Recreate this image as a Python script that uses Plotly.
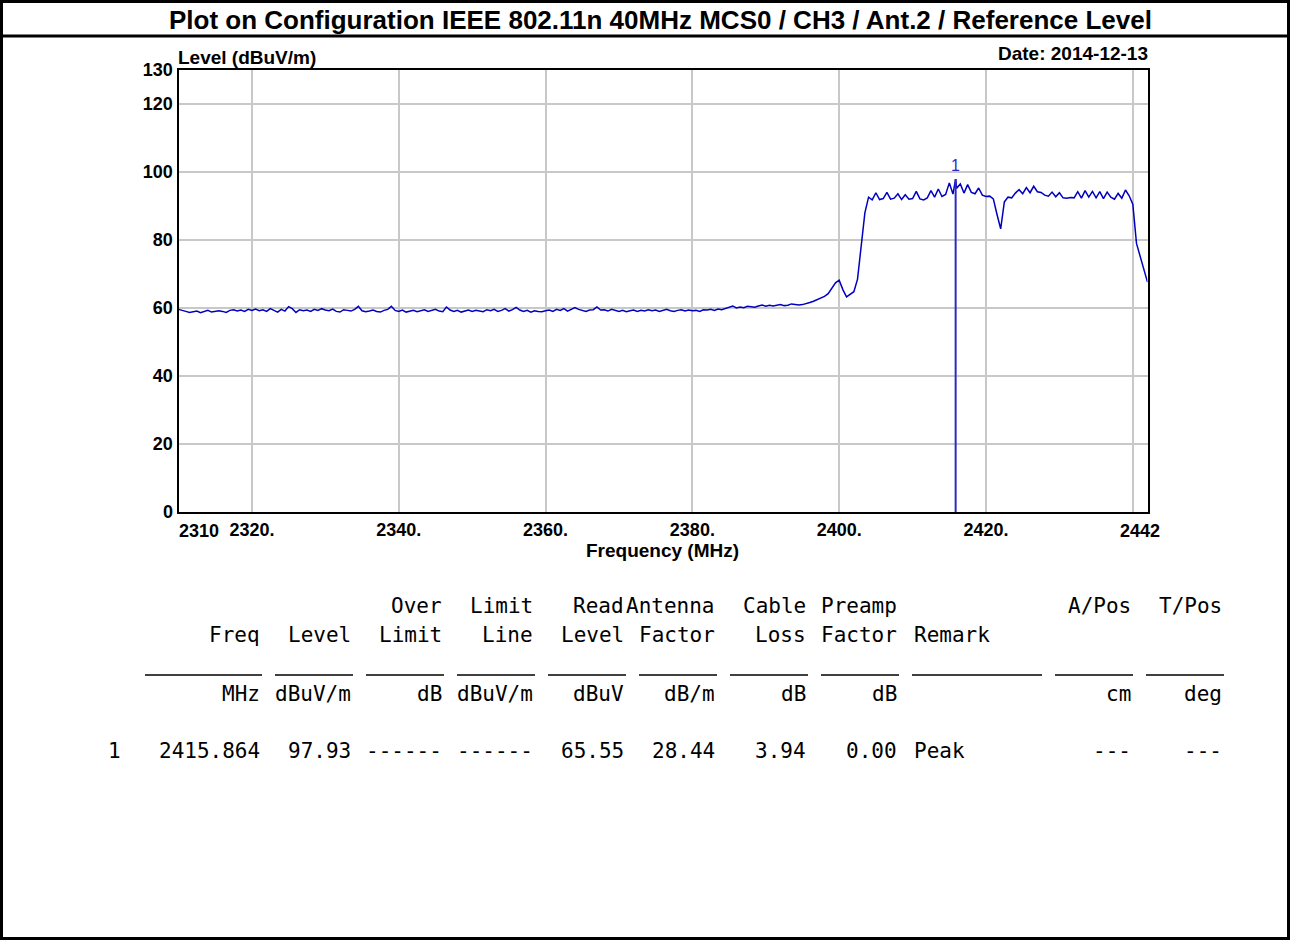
import plotly.graph_objects as go

# ---------------- measured sweep ----------------
freq_mhz = [
    2310.0, 2310.5, 2311.0, 2311.5, 2312.0, 2312.5, 2313.0, 2313.5, 2314.0, 2314.5,
    2315.0, 2315.5, 2316.0, 2316.5, 2317.0, 2317.5, 2318.0, 2318.5, 2319.0, 2319.5,
    2320.0, 2320.5, 2321.0, 2321.5, 2322.0, 2322.5, 2323.0, 2323.5, 2324.0, 2324.5,
    2325.0, 2325.5, 2326.0, 2326.5, 2327.0, 2327.5, 2328.0, 2328.5, 2329.0, 2329.5,
    2330.0, 2330.5, 2331.0, 2331.5, 2332.0, 2332.5, 2333.0, 2333.5, 2334.0, 2334.5,
    2335.0, 2335.5, 2336.0, 2336.5, 2337.0, 2337.5, 2338.0, 2338.5, 2339.0, 2339.5,
    2340.0, 2340.5, 2341.0, 2341.5, 2342.0, 2342.5, 2343.0, 2343.5, 2344.0, 2344.5,
    2345.0, 2345.5, 2346.0, 2346.5, 2347.0, 2347.5, 2348.0, 2348.5, 2349.0, 2349.5,
    2350.0, 2350.5, 2351.0, 2351.5, 2352.0, 2352.5, 2353.0, 2353.5, 2354.0, 2354.5,
    2355.0, 2355.5, 2356.0, 2356.5, 2357.0, 2357.5, 2358.0, 2358.5, 2359.0, 2359.5,
    2360.0, 2360.5, 2361.0, 2361.5, 2362.0, 2362.5, 2363.0, 2363.5, 2364.0, 2364.5,
    2365.0, 2365.5, 2366.0, 2366.5, 2367.0, 2367.5, 2368.0, 2368.5, 2369.0, 2369.5,
    2370.0, 2370.5, 2371.0, 2371.5, 2372.0, 2372.5, 2373.0, 2373.5, 2374.0, 2374.5,
    2375.0, 2375.5, 2376.0, 2376.5, 2377.0, 2377.5, 2378.0, 2378.5, 2379.0, 2379.5,
    2380.0, 2380.5, 2381.0, 2381.5, 2382.0, 2382.5, 2383.0, 2383.5, 2384.0, 2384.5,
    2385.0, 2385.5, 2386.0, 2386.5, 2387.0, 2387.5, 2388.0, 2388.5, 2389.0, 2389.5,
    2390.0, 2390.5, 2391.0, 2391.5, 2392.0, 2392.5, 2393.0, 2393.5, 2394.0, 2394.5,
    2395.0, 2395.5, 2396.0, 2396.5, 2397.0, 2397.5, 2398.0, 2398.5, 2399.0, 2399.5,
    2400.0, 2400.5, 2401.0, 2401.5, 2402.0, 2402.5, 2403.0, 2403.5, 2404.0, 2404.5,
    2405.0, 2405.5, 2406.0, 2406.5, 2407.0, 2407.5, 2408.0, 2408.5, 2409.0, 2409.5,
    2410.0, 2410.5, 2411.0, 2411.5, 2412.0, 2412.5, 2413.0, 2413.5, 2414.0, 2414.5,
    2415.0, 2415.5, 2415.864, 2416.0, 2416.5, 2417.0, 2417.5, 2418.0, 2418.5, 2419.0, 2419.5,
    2420.0, 2420.5, 2421.0, 2421.5, 2422.0, 2422.5, 2423.0, 2423.5, 2424.0, 2424.5,
    2425.0, 2425.5, 2426.0, 2426.5, 2427.0, 2427.5, 2428.0, 2428.5, 2429.0, 2429.5,
    2430.0, 2430.5, 2431.0, 2431.5, 2432.0, 2432.5, 2433.0, 2433.5, 2434.0, 2434.5,
    2435.0, 2435.5, 2436.0, 2436.5, 2437.0, 2437.5, 2438.0, 2438.5, 2439.0, 2439.5,
    2440.0, 2440.5, 2441.0, 2441.5, 2442.0,
]

level_dbuv_m = [
    59.6, 59.2, 59.0, 58.7, 58.9, 59.1, 58.6, 59.0, 59.3, 58.8,
    58.9, 59.2, 59.0, 58.7, 59.3, 59.5, 59.1, 59.4, 59.0, 59.6,
    59.3, 59.7, 59.2, 59.5, 59.0, 59.8, 59.3, 58.8, 59.6, 59.1,
    60.4, 59.8, 58.7, 59.5, 59.2, 59.4, 59.0, 59.6, 59.3, 59.8,
    59.4, 59.2, 59.7, 59.0, 58.8, 59.5, 59.3, 59.1, 59.6, 60.5,
    59.2, 58.9, 59.1, 59.4, 59.0, 58.8, 59.3, 59.6, 60.5, 59.3,
    59.0, 59.4, 58.8, 59.1, 59.3, 58.9, 59.2, 59.5, 59.0, 59.3,
    59.6, 59.1, 58.9, 60.3, 59.4, 59.0, 59.3, 58.8, 59.2, 59.4,
    59.0, 59.3, 59.1, 58.9, 59.5, 59.2, 59.6, 59.0, 59.3, 59.8,
    59.1, 59.5, 60.2, 59.4, 59.0, 59.3, 58.8, 59.2, 59.0, 58.9,
    59.2, 59.4, 59.0, 59.6, 59.3, 59.8, 59.1, 59.5, 60.1, 59.6,
    59.2, 59.0, 59.4, 59.5, 60.3, 59.4, 59.5, 59.1, 59.6, 59.3,
    59.0, 59.3, 58.9, 59.2, 59.4, 59.0, 59.3, 59.1, 59.5, 59.2,
    59.4, 59.0, 59.3, 59.6, 59.2, 59.0, 59.3, 59.5, 59.1, 59.4,
    59.2, 59.3, 59.0, 59.5, 59.4, 59.6, 59.3, 59.7, 59.5, 59.8,
    60.2, 60.6, 60.0, 60.3, 60.1, 60.5, 60.4, 60.2, 60.6, 60.9,
    60.5, 60.8, 60.6, 60.9, 61.0, 60.7, 60.8, 61.2, 61.0, 60.9,
    61.0, 61.2, 61.6, 62.0, 62.5, 63.0, 63.4, 64.2, 66.0, 67.4,
    68.2, 65.4, 63.3, 64.0, 64.8, 68.5, 78.0, 88.0, 92.6, 91.8,
    93.9, 91.9, 92.2, 94.0, 92.0, 92.3, 93.6, 91.9, 93.3, 92.0,
    92.2, 94.3, 92.1, 91.8, 92.4, 94.5, 92.6, 95.0, 92.8, 93.4,
    96.8, 93.5, 97.93, 95.2, 96.5, 93.8, 96.3, 94.0, 93.6, 95.3, 93.2,
    92.8, 92.9, 92.1, 87.5, 83.3, 91.2, 92.6, 92.4, 93.8, 94.8,
    93.6, 95.4, 93.9, 95.8, 94.2, 94.0, 93.2, 92.9, 94.1, 92.7,
    93.9, 92.4, 92.3, 92.5, 92.4, 94.2, 92.3, 94.5, 92.6, 94.3,
    92.4, 94.2, 92.2, 94.1, 92.6, 92.0, 93.7, 92.3, 94.7, 93.0,
    90.5, 79.0, 75.0, 71.0, 67.6,
]

# marker 1 (peak)
marker_freq = [2415.864]
marker_level = [97.93]
marker_labels = ["1"]

# axis ticks
x_tick_vals = [2320, 2340, 2360, 2380, 2400, 2420, 2440]
x_tick_text = ["2320.", "2340.", "2360.", "2380.", "2400.", "2420.", ""]
x_end_labels = ["2310", "2442"]
y_tick_vals = [0, 20, 40, 60, 80, 100, 120, 130]
y_tick_text = ["0", "20", "40", "60", "80", "100", "120", "130"]

# result table
tbl_head1 = ["", "", "", "Over", "Limit", "Read", "Antenna", "Cable", "Preamp", "", "A/Pos", "T/Pos"]
tbl_head2 = ["", "Freq", "Level", "Limit", "Line", "Level", "Factor", "Loss", "Factor", "Remark", "", ""]
tbl_units = ["", "MHz", "dBuV/m", "dB", "dBuV/m", "dBuV", "dB/m", "dB", "dB", "", "cm", "deg"]
tbl_row1 = ["1", "2415.864", "97.93", "------", "------", "65.55", "28.44", "3.94", "0.00", "Peak", "---", "---"]

TITLE = "Plot on Configuration IEEE 802.11n 40MHz MCS0 / CH3 / Ant.2 / Reference Level"
DATE = "Date: 2014-12-13"

# ---------------- page geometry ----------------
W, H = 1290, 940
PX_L, PX_R = 178.5, 1147.5
PX_T, PX_B = 70, 512


def px(x):
    return x / W


def py(y):
    return 1 - y / H


SANS = "Liberation Sans, Arial, sans-serif"
MONO = "DejaVu Sans Mono, monospace"
TRACE_BLUE = "#0000c0"
MARK_BLUE = "#2b2bc4"

fig = go.Figure()

fig.add_trace(go.Scatter(
    x=freq_mhz, y=level_dbuv_m, mode="lines",
    line=dict(color=TRACE_BLUE, width=1.5), hoverinfo="skip", showlegend=False,
))

# marker stick from the floor up to the marker level
for f, lv in zip(marker_freq, marker_level):
    fig.add_trace(go.Scatter(
        x=[f, f], y=[0, lv], mode="lines",
        line=dict(color=MARK_BLUE, width=2), hoverinfo="skip", showlegend=False,
    ))

annotations = []
for f, lv, lab in zip(marker_freq, marker_level, marker_labels):
    annotations.append(dict(
        x=f, y=lv, xref="x", yref="y", text=lab, showarrow=False,
        xanchor="center", yanchor="bottom", yshift=3,
        font=dict(family=SANS, size=16, color=MARK_BLUE),
    ))

# end labels of the frequency axis
annotations.append(dict(
    x=2310, y=0, xref="x", yref="y", text=f"<b>{x_end_labels[0]}</b>", showarrow=False,
    xanchor="left", yanchor="top", xshift=-2, yshift=-7,
    font=dict(family=SANS, size=18, color="black"),
))
annotations.append(dict(
    x=2442, y=0, xref="x", yref="y", text=f"<b>{x_end_labels[1]}</b>", showarrow=False,
    xanchor="right", yanchor="top", xshift=14, yshift=-7,
    font=dict(family=SANS, size=18, color="black"),
))

# titles
annotations += [
    dict(x=px(660), y=py(20), xref="paper", yref="paper", text=f"<b>{TITLE}</b>",
         showarrow=False, xanchor="center", yanchor="middle",
         font=dict(family=SANS, size=26, color="black")),
    dict(x=px(176), y=py(57), xref="paper", yref="paper", text="<b>Level (dBuV/m)</b>",
         showarrow=False, xanchor="left", yanchor="middle",
         font=dict(family=SANS, size=19, color="black")),
    dict(x=px(1150), y=py(53), xref="paper", yref="paper", text=f"<b>{DATE}</b>",
         showarrow=False, xanchor="right", yanchor="middle",
         font=dict(family=SANS, size=19, color="black")),
    dict(x=px(662), y=py(550), xref="paper", yref="paper", text="<b>Frequency (MHz)</b>",
         showarrow=False, xanchor="center", yanchor="middle",
         font=dict(family=SANS, size=19, color="black")),
]

# table on a fixed character grid
CH0, CW = 106, 13
col_end = [1, 12, 19, 26, 33, 40, 47, 54, 61, 62, 79, 86]   # last char column (exclusive)
col_width = [1, 9, 6, 6, 6, 6, 6, 6, 6, 10, 6, 6]
left_cols = {0, 9}
rows = [(tbl_head1, 606), (tbl_head2, 635), (tbl_units, 694), (tbl_row1, 751)]
for cells, yc in rows:
    for i, txt in enumerate(cells):
        if not txt:
            continue
        if i in left_cols:
            start = col_end[i] if i == 9 else 0
            xa, xpos = "left", CH0 + start * CW
        else:
            xa, xpos = "right", CH0 + col_end[i] * CW
        annotations.append(dict(
            x=px(xpos), y=py(yc), xref="paper", yref="paper", text=txt,
            showarrow=False, xanchor=xa, yanchor="middle",
            font=dict(family=MONO, size=21, color="black"),
        ))

shapes = []
# underline segments under the header
for i in range(1, len(col_end)):
    if i == 9:
        x0, x1 = CH0 + col_end[i] * CW, CH0 + (col_end[i] + col_width[i]) * CW
    else:
        x0, x1 = CH0 + (col_end[i] - col_width[i]) * CW, CH0 + col_end[i] * CW
    shapes.append(dict(type="line", xref="paper", yref="paper",
                       x0=px(x0), x1=px(x1), y0=py(675), y1=py(675),
                       line=dict(color="black", width=1.5)))

# title rule and page frame
shapes.append(dict(type="line", xref="paper", yref="paper", x0=0, x1=1,
                   y0=py(36), y1=py(36), line=dict(color="black", width=3)))
shapes.append(dict(type="rect", xref="paper", yref="paper",
                   x0=px(1.5), x1=px(W - 1.5), y0=py(H - 1.5), y1=py(1.5),
                   line=dict(color="black", width=3)))

axis_font = dict(family=SANS, size=18, color="black", weight="bold")

fig.update_layout(
    template="none",
    width=W, height=H,
    margin=dict(l=0, r=0, t=0, b=0, pad=0, autoexpand=False),
    paper_bgcolor="white", plot_bgcolor="white",
    showlegend=False,
    annotations=annotations,
    shapes=shapes,
    xaxis=dict(
        domain=[px(PX_L), px(PX_R)], range=[2310, 2442], automargin=False,
        tickvals=x_tick_vals, ticktext=x_tick_text, ticks="",
        showgrid=True, gridcolor="#c8c8c8", gridwidth=1.5,
        showline=True, mirror=True, linecolor="black", linewidth=2,
        zeroline=False, tickfont=axis_font,
    ),
    yaxis=dict(
        domain=[py(PX_B), py(PX_T)], range=[0, 130], automargin=False,
        tickvals=y_tick_vals, ticktext=y_tick_text, ticks="",
        showgrid=True, gridcolor="#c8c8c8", gridwidth=1.5,
        showline=True, mirror=True, linecolor="black", linewidth=2,
        zeroline=False, tickfont=axis_font,
    ),
)

fig.write_html(
    "out.html",
    post_script="document.body.style.margin='0';document.body.style.overflow='hidden';",
)
